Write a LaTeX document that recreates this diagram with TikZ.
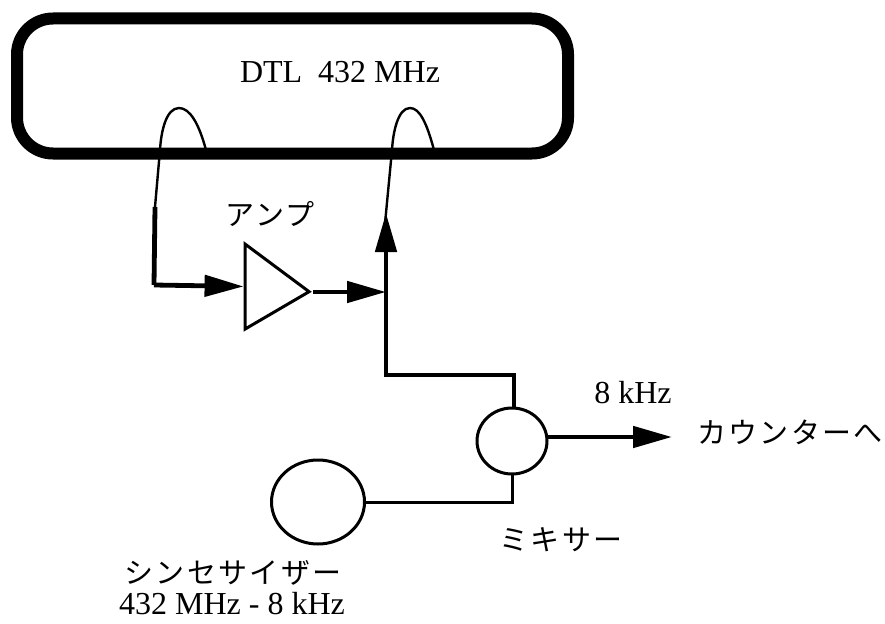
\documentclass[tikz,border=0pt]{standalone}
\usepackage{fontspec}
\setmainfont{Liberation Serif}
\newfontfamily\jpfont[LetterSpace=8]{Noto Sans CJK JP}
\usetikzlibrary{shapes.geometric,arrows.meta,positioning}
\tikzset{
  wirethin/.style={line width=2.4pt},
  wire/.style={line width=4.8pt},
  headh/.style={-{Triangle[length=39pt,width=21pt]}},
  roundbox/.style={draw,ellipse,line width=3pt,inner sep=0pt,outer sep=0pt},
  jplabel/.style={inner sep=0pt,font=\fontsize{29}{34}\selectfont\jpfont},
  enlabel/.style={inner sep=0pt,font=\fontsize{32}{36}\selectfont},
}
\begin{document}
\begin{tikzpicture}[x=1pt,y=-1pt]
    \useasboundingbox (0,0) rectangle (885,623);
    \node[draw,line width=12pt,rounded corners=36pt,minimum width=551pt,minimum height=135pt,inner sep=0pt,outer sep=0pt] (dtl) at (292.5,86) {};
    \node[enlabel] (dtllabel) at (340,72) {DTL\ \ 432 MHz};

    \node[draw,isosceles triangle,isosceles triangle stretches,minimum width=85pt,minimum height=64pt,inner sep=0pt,line width=3pt,yslant=-0.08,transform shape,anchor=apex] (amp) at (313,292) {};
    \node[jplabel] (amplabel) at (270,214) {アンプ};

    \node[roundbox,minimum width=70pt,minimum height=66pt] (mixer) at (512,441) {};
    \node[roundbox,minimum width=93pt,minimum height=84pt] (synth) at (318,502) {};
    \node[jplabel] (mixerlabel) at (561,540) {ミキサー};
    \node[enlabel] (beatlabel) at (633,393) {8 kHz};
    \node[jplabel] (counter) at (790,432) {カウンターへ};
    \node[jplabel] (synthlabel) at (233,573) {シンセサイザー};
    \node[enlabel] (synthfreq) at (232,604) {432 MHz - 8 kHz};

    \coordinate (leftend) at (206,150);
    \coordinate (leftpeak) at (179,108);
    \coordinate (leftdrop) at (155,207);
    \coordinate (leftcorner) at (154,285);
    \coordinate (rightend) at (434,150);
    \coordinate (rightpeak) at (410,108);
    \coordinate (uptip) at (386,213);
    \coordinate (joint) at (386,375);
    \coordinate (outtip) at (672,437);

    \draw[wirethin] (leftend) .. controls (199,124) and (190,108) .. (leftpeak) .. controls (166,108) and (161,132) .. (160,150) -- (leftdrop);
    \draw[wire] (leftdrop) -- (leftcorner);
    \draw[wire,headh] (leftcorner) -- (amp.lower side);
    \draw[wire,headh] (amp.apex) -- (amp.apex -| joint);
    \draw[wirethin,shorten >=-10pt] (rightend) .. controls (427,124) and (420,108) .. (rightpeak) .. controls (398,108) and (393,132) .. (392,150) -- (uptip);
    \draw[wire,headh] (mixer.north -| 514,0) |- (joint) -- (uptip);
    \draw[wire,headh] (mixer.east |- outtip) -- (outtip);
    \draw[line width=3pt] (synth.east) -| (mixer.south);
  \end{tikzpicture}
\end{document}
